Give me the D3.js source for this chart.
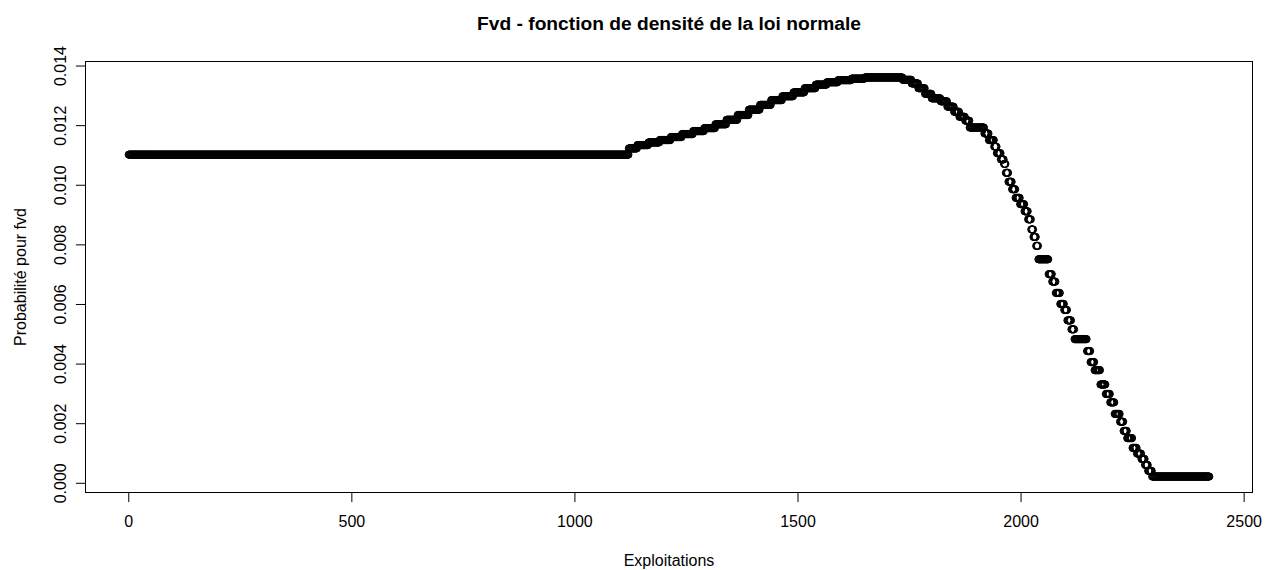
<!DOCTYPE html>
<html>
<head>
<meta charset="utf-8">
<script src="https://cdn.jsdelivr.net/npm/d3@7"></script>
<style>
  html, body { margin: 0; padding: 0; background: #fff; }
  svg { display: block; }
  text { font-family: "Liberation Sans", Arial, sans-serif; fill: #000; }
</style>
</head>
<body>
<svg id="chart" width="1272" height="570"></svg>
<script>
// ---- Data ----
// Sorted density values, stored as runs of tied values: index range [start, end] and the value
const runStart = [1, 1122, 1141, 1166, 1191, 1216, 1241, 1266, 1291, 1316, 1341, 1366, 1391, 1416, 1441, 1466, 1491, 1516, 1541, 1566, 1591, 1621, 1651,
  1736, 1756, 1771, 1786, 1801, 1821, 1836, 1851, 1863, 1876, 1886, 1919, 1929, 1941, 1947, 1956, 1963, 1967, 1973, 1981, 1989, 1999, 2009, 2017, 2024, 2029, 2035,
  2040, 2063, 2071, 2079, 2089, 2098, 2105, 2114, 2121, 2149, 2157, 2166, 2179, 2191, 2201, 2211, 2223, 2231, 2239, 2251, 2261, 2271, 2279, 2286, 2295];
const runEnd = [1121, 1140, 1165, 1190, 1215, 1240, 1265, 1290, 1315, 1340, 1365, 1390, 1415, 1440, 1465, 1490, 1515, 1540, 1565, 1590, 1620, 1650, 1735,
  1755, 1770, 1785, 1800, 1820, 1835, 1850, 1862, 1875, 1885, 1918, 1928, 1940, 1946, 1955, 1962, 1966, 1972, 1980, 1988, 1998, 2008, 2016, 2023, 2028, 2034, 2039,
  2062, 2070, 2078, 2088, 2097, 2104, 2113, 2120, 2148, 2156, 2165, 2178, 2190, 2200, 2210, 2222, 2230, 2238, 2250, 2260, 2270, 2278, 2285, 2294, 2423];
const runValue = [0.01101, 0.01122, 0.01133, 0.01142, 0.01150, 0.01160, 0.01170, 0.01180, 0.01190, 0.01203, 0.01218, 0.01234, 0.01252, 0.01268, 0.01284, 0.01297, 0.01310, 0.01324, 0.01336, 0.01344, 0.01351, 0.01356, 0.01360,
  0.01352, 0.01340, 0.01324, 0.01305, 0.01290, 0.01280, 0.01262, 0.01245, 0.01228, 0.01215, 0.01192, 0.01172, 0.01150, 0.01128, 0.01106, 0.01085, 0.01070, 0.01040, 0.01010, 0.00985, 0.00956, 0.00935, 0.00911, 0.00884, 0.00850, 0.00825, 0.00795,
  0.00750, 0.00700, 0.00675, 0.00637, 0.00600, 0.00580, 0.00545, 0.00515, 0.00482, 0.00442, 0.00405, 0.00378, 0.00330, 0.00298, 0.00270, 0.00231, 0.00205, 0.00174, 0.00150, 0.00117, 0.00098, 0.00080, 0.00060, 0.00040, 0.00021];

const xTicks = [0, 500, 1000, 1500, 2000, 2500];
const yTicks = [0, 0.002, 0.004, 0.006, 0.008, 0.010, 0.012, 0.014];
const yTickLabels = ["0.000", "0.002", "0.004", "0.006", "0.008", "0.010", "0.012", "0.014"];

const titleText = "Fvd - fonction de densité de la loi normale";
const xLabel = "Exploitations";
const yLabel = "Probabilité pour fvd";

// ---- Expand runs into points ----
const points = [];
runStart.forEach((s, i) => {
  for (let k = s; k <= runEnd[i]; k++) points.push({ x: k, y: runValue[i] });
});

// ---- Layout ----
const box = { left: 85.5, right: 1252.5, top: 61.5, bottom: 492.5 };
const svg = d3.select("#chart");

function rExtend(ext) {
  const r = ext[1] - ext[0];
  return [ext[0] - 0.04 * r, ext[1] + 0.04 * r];
}
const x = d3.scaleLinear().domain(rExtend(d3.extent(points, d => d.x))).range([box.left, box.right]);
const y = d3.scaleLinear().domain(rExtend(d3.extent(points, d => d.y))).range([box.bottom, box.top]);

// points
svg.append("g").selectAll("circle").data(points).join("circle")
  .attr("cx", d => x(d.x)).attr("cy", d => y(d.y)).attr("r", 3.6)
  .attr("fill", "none").attr("stroke", "#000").attr("stroke-width", 1);

// box
svg.append("rect").attr("x", box.left).attr("y", box.top)
  .attr("width", box.right - box.left).attr("height", box.bottom - box.top)
  .attr("fill", "none").attr("stroke", "#000").attr("stroke-width", 1);

// x axis
const xAxis = svg.append("g").attr("transform", `translate(0,${box.bottom})`)
  .call(d3.axisBottom(x).tickValues(xTicks).tickFormat(d3.format("d")).tickSizeInner(9.6).tickSizeOuter(0).tickPadding(14));
xAxis.select(".domain").remove();
xAxis.append("line").attr("x1", x(xTicks[0])).attr("x2", x(xTicks[xTicks.length - 1]))
  .attr("stroke", "#000");
xAxis.selectAll(".tick line").attr("stroke", "#000");
xAxis.selectAll("text").attr("font-size", 16).attr("font-family", "Liberation Sans, Arial, sans-serif").attr("fill", "#000");

// y axis
const yAxis = svg.append("g").attr("transform", `translate(${box.left},0)`)
  .call(d3.axisLeft(y).tickValues(yTicks).tickFormat((d, i) => yTickLabels[i]).tickSizeInner(9.6).tickSizeOuter(0));
yAxis.select(".domain").remove();
yAxis.append("line").attr("y1", y(yTicks[0])).attr("y2", y(yTicks[yTicks.length - 1]))
  .attr("stroke", "#000");
yAxis.selectAll(".tick line").attr("stroke", "#000");
yAxis.selectAll(".tick text")
  .attr("x", null).attr("dy", null)
  .attr("transform", "translate(-20,0) rotate(-90)")
  .attr("text-anchor", "middle")
  .attr("font-size", 16).attr("font-family", "Liberation Sans, Arial, sans-serif").attr("fill", "#000");

// labels
svg.append("text").attr("x", (box.left + box.right) / 2).attr("y", 30)
  .attr("text-anchor", "middle").attr("font-size", 19.2).attr("font-weight", "bold").text(titleText);
svg.append("text").attr("x", (box.left + box.right) / 2).attr("y", 566)
  .attr("text-anchor", "middle").attr("font-size", 16).text(xLabel);
svg.append("text").attr("transform", `translate(26,${(box.top + box.bottom) / 2}) rotate(-90)`)
  .attr("text-anchor", "middle").attr("font-size", 16).text(yLabel);
</script>
</body>
</html>
